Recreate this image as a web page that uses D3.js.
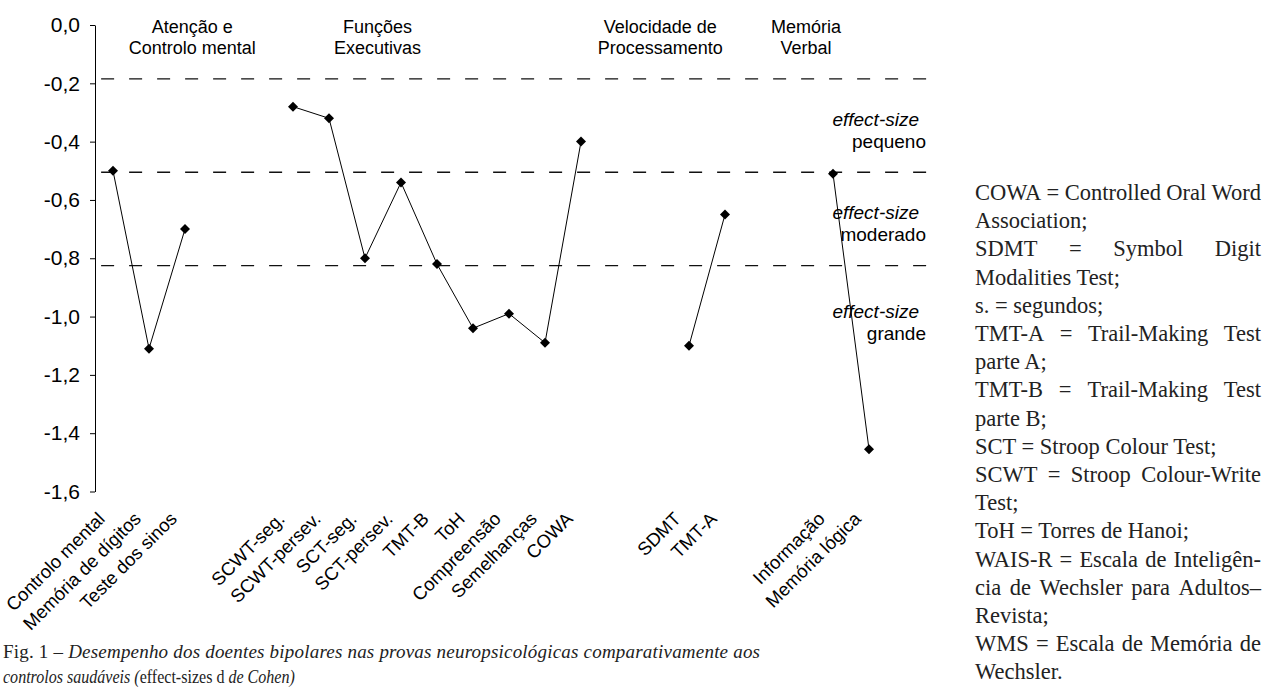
<!DOCTYPE html>
<html>
<head>
<meta charset="utf-8">
<script src="https://cdn.jsdelivr.net/npm/d3@7"></script>
<style>
    body { margin: 0; background: #fff; }
    svg { display: block; }
    .tick text { font-family: "Liberation Sans", Arial, sans-serif; }
    .lbl { font-family: "Liberation Sans", Arial, sans-serif; fill: #000; }
    .note { font-family: "Liberation Serif", "Times New Roman", serif; fill: #222; }
</style>
</head>
<body>
<svg id="chart"></svg>
<script>
// grupos de provas (titulo em duas linhas)
const groupNames = [
    ['Atenção e', 'Controlo mental'],
    ['Funções', 'Executivas'],
    ['Velocidade de', 'Processamento'],
    ['Memória', 'Verbal']
];
const groupTests = [
    ['Controlo mental', 'Memória de dígitos', 'Teste dos sinos'],
    ['SCWT-seg.', 'SCWT-persev.', 'SCT-seg.', 'SCT-persev.', 'TMT-B', 'ToH', 'Compreensão', 'Semelhanças', 'COWA'],
    ['SDMT', 'TMT-A'],
    ['Informação', 'Memória lógica']
];
// effect-size d de Cohen
const groupValues = [
    [-0.50, -1.11, -0.70],
    [-0.28, -0.32, -0.80, -0.54, -0.82, -1.04, -0.99, -1.09, -0.40],
    [-1.10, -0.65],
    [-0.51, -1.455]
];
const groupLabelSlot = [2.2, 7.35, 15.2, 19.25];  // centro do titulo (em posições de categoria)
const yTicks = [0, -0.2, -0.4, -0.6, -0.8, -1.0, -1.2, -1.4, -1.6];
const thresholds = [-0.185, -0.505, -0.825];  // linhas tracejadas
const effectNames = ['pequeno', 'moderado', 'grande'];
const effectLabelAt = [-0.36, -0.68, -1.02];

const noteLines = [
    'COWA = Controlled Oral Word',
    'Association;',
    'SDMT = Symbol Digit',
    'Modalities Test;',
    's. = segundos;',
    'TMT-A = Trail-Making Test',
    'parte A;',
    'TMT-B = Trail-Making Test',
    'parte B;',
    'SCT = Stroop Colour Test;',
    'SCWT = Stroop Colour-Write',
    'Test;',
    'ToH = Torres de Hanoi;',
    'WAIS-R = Escala de Inteligên-',
    'cia de Wechsler para Adultos–',
    'Revista;',
    'WMS = Escala de Memória de',
    'Wechsler.'
];

const width = 1264, height = 692;
const gapSlots = 2;
const svg = d3.select('#chart').attr('width', width).attr('height', height);

// posição de cada prova no eixo x
let points = [];
let slot = 0;
groupTests.forEach((tests, g) => {
    tests.forEach((t, i) => {
        points.push({ name: t, value: groupValues[g][i], slot: slot, group: g });
        slot++;
    });
    slot += gapSlots;
});
const nSlots = slot - gapSlots + 2;

let x = d3.scaleLinear()
    .domain([-0.5, nSlots - 0.5])
    .range([95, 95 + nSlots * 36]);
let y = d3.scaleLinear()
    .domain([-1.6, 0])
    .range([491.5, 25]);
const plotRight = x(nSlots - 1);

// y axis
let axis_y = d3.axisLeft(y)
    .tickValues(yTicks)
    .tickSize(5)
    .tickSizeOuter(0)
    .tickPadding(10)
    .tickFormat(d => d3.format('.1f')(d).replace('.', ',').replace('−', '-'));
svg.append('g')
    .attr('transform', `translate(${x(-0.5)}, 0)`)
    .call(axis_y)
    .attr('font-size', 21)
    .call(g => g.selectAll('text').attr('fill', '#000'));

// linhas tracejadas
svg.append('g')
    .selectAll('line')
    .data(thresholds)
    .join('line')
    .attr('x1', x(-0.33))
    .attr('x2', plotRight)
    .attr('y1', d => y(d))
    .attr('y2', d => y(d))
    .attr('stroke', '#111')
    .attr('stroke-width', 1.3)
    .attr('stroke-dasharray', '13,15');

// titulos dos grupos
let gl = svg.append('g').selectAll('text')
    .data(groupNames)
    .join('text')
    .attr('class', 'lbl')
    .attr('font-size', 18)
    .attr('text-anchor', 'middle')
    .attr('transform', (d, i) => `translate(${x(groupLabelSlot[i])}, 33)`);
gl.selectAll('tspan')
    .data(d => d)
    .join('tspan')
    .attr('x', 0)
    .attr('dy', (d, i) => i === 0 ? 0 : 21)
    .text(d => d);

// etiquetas effect-size
let el = svg.append('g').selectAll('g')
    .data(effectNames)
    .join('g')
    .attr('transform', (d, i) => `translate(${plotRight}, ${y(effectLabelAt[i])})`);
el.append('text')
    .attr('class', 'lbl')
    .attr('font-size', 19)
    .attr('font-style', 'italic')
    .attr('text-anchor', 'end')
    .attr('x', -22)
    .attr('y', -4)
    .text('effect-size');
el.append('text')
    .attr('class', 'lbl')
    .attr('font-size', 19)
    .attr('text-anchor', 'end')
    .attr('x', -15)
    .attr('y', 18)
    .text(d => d);

// linhas de cada grupo
let line = d3.line()
    .x(d => x(d.slot))
    .y(d => y(d.value));
svg.append('g')
    .selectAll('path')
    .data(d3.groups(points, d => d.group))
    .join('path')
    .attr('d', d => line(d[1]))
    .attr('fill', 'none')
    .attr('stroke', '#000')
    .attr('stroke-width', 1);

// pontos (losangos)
let diamond = d3.symbol().type(d3.symbolSquare).size(50);
svg.append('g')
    .selectAll('path')
    .data(points)
    .join('path')
    .attr('d', diamond)
    .attr('transform', d => `translate(${x(d.slot)}, ${y(d.value)}) rotate(45)`)
    .attr('fill', '#000');

// etiquetas do eixo x
svg.append('g')
    .selectAll('text')
    .data(points)
    .join('text')
    .attr('class', 'lbl')
    .attr('font-size', 18.5)
    .attr('text-anchor', 'end')
    .attr('transform', d => `translate(${x(d.slot) - 7}, 520) rotate(-45)`)
    .text(d => d.name);

// legenda da figura
let cap = svg.append('g').attr('class', 'note').attr('font-size', 19);
let c1 = cap.append('text')
    .attr('x', 3).attr('y', 658)
    .attr('textLength', 757)
    .attr('lengthAdjust', 'spacing');
c1.append('tspan').text('Fig. 1 – ');
c1.append('tspan').attr('font-style', 'italic')
    .text('Desempenho dos doentes bipolares nas provas neuropsicológicas comparativamente aos');
let c2 = cap.append('text');
c2.append('tspan').attr('font-style', 'italic').text('controlos saudáveis (');
c2.append('tspan').text('effect-sizes d ');
c2.append('tspan').attr('font-style', 'italic').text('de Cohen)');
// letra estreita como no original
let c2w = c2.node().getComputedTextLength();
c2.attr('transform', `translate(3, 683) scale(${292 / c2w}, 1)`);

// notas à direita (texto justificado)
const noteX = 975, noteW = 286, noteY = 200, noteStep = 28.2;
let notes = svg.append('g').attr('class', 'note').attr('font-size', 22.5);
let tmp = notes.append('text').attr('visibility', 'hidden');
function measure(str) {
    tmp.text(str);
    return tmp.node().getComputedTextLength();
}
noteLines.forEach((ln, i) => {
    let t = notes.append('text').attr('y', noteY + i * noteStep);
    let justify = i < noteLines.length - 1 && noteLines[i + 1].indexOf('=') < 0;
    if (!justify) {
        t.attr('x', noteX).text(ln);
        return;
    }
    let words = ln.split(' ');
    let ws = words.map(measure);
    let gap = (noteW - d3.sum(ws)) / (words.length - 1);
    let pos = 0;
    let xs = ws.map(w => { let p = pos; pos += w + gap; return p; });
    t.selectAll('tspan')
        .data(words)
        .join('tspan')
        .attr('x', (d, k) => noteX + xs[k])
        .text(d => d);
});
tmp.remove();
</script>
</body>
</html>
